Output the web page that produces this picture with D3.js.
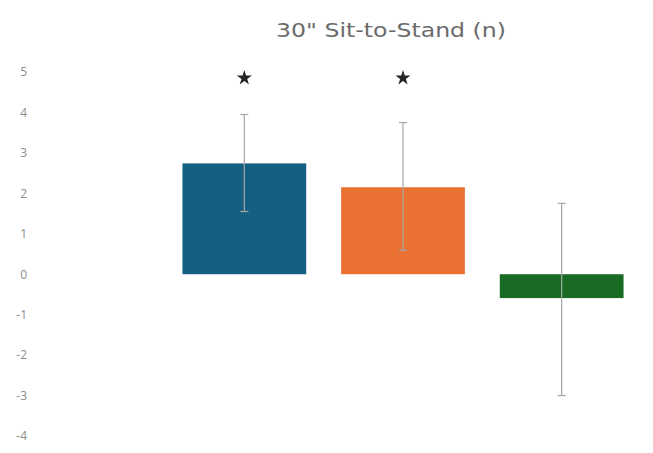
<!DOCTYPE html>
<html>
<head>
<meta charset="utf-8">
<script src="https://cdn.jsdelivr.net/npm/d3@7"></script>
<style>
  body { margin: 0; background: #fff; }
  svg { display: block; }
</style>
</head>
<body>
<svg id="chart" width="653" height="453"></svg>
<script>
// values
const groups = ["A", "B", "C"];
const means = [2.74, 2.15, -0.59];
const errUp = [3.95, 3.75, 1.75];
const errLow = [1.55, 0.59, -3.0];
const starred = [true, true, false];
const colors = ["#156082", "#E97132", "#196B24"];
const yTicks = [5, 4, 3, 2, 1, 0, -1, -2, -3, -4];

const svg = d3.select("#chart");

const x = d3.scaleBand()
    .domain(groups)
    .range([165, 641])
    .paddingInner(0.22)
    .paddingOuter(0.11);

const y = d3.scaleLinear()
    .domain([-4, 5])
    .range([436, 72]);

// title
svg.append("text")
    .attr("x", 391)
    .attr("y", 37)
    .attr("text-anchor", "middle")
    .attr("font-family", "DejaVu Sans, sans-serif")
    .attr("font-size", 20)
    .attr("textLength", 230)
    .attr("lengthAdjust", "spacingAndGlyphs")
    .attr("fill", "#6b6b6b")
    .text("30\" Sit-to-Stand (n)");

// y axis labels only, no line
const yAxis = d3.axisLeft(y)
    .tickValues(yTicks)
    .tickSize(0)
    .tickPadding(0)
    .tickFormat(d => String(d));

svg.append("g")
    .attr("transform", "translate(27,0)")
    .call(yAxis)
    .call(g => g.select(".domain").remove())
    .call(g => g.selectAll("text")
        .attr("font-family", "Open Sans, sans-serif")
        .attr("font-size", 12)
        .attr("fill", "#8c8c8c"));

// bars
svg.selectAll("rect.bar")
    .data(groups)
    .join("rect")
    .attr("class", "bar")
    .attr("x", d => x(d))
    .attr("width", x.bandwidth())
    .attr("y", (d, i) => y(Math.max(0, means[i])))
    .attr("height", (d, i) => Math.abs(y(means[i]) - y(0)))
    .attr("fill", (d, i) => colors[i]);

// error bars
const eb = svg.selectAll("g.err")
    .data(groups)
    .join("g")
    .attr("class", "err")
    .attr("stroke", "#a6a6a6")
    .attr("stroke-width", 1.2);

eb.append("line")
    .attr("x1", d => x(d) + x.bandwidth() / 2)
    .attr("x2", d => x(d) + x.bandwidth() / 2)
    .attr("y1", (d, i) => y(errUp[i]))
    .attr("y2", (d, i) => y(errLow[i]));

eb.append("line")
    .attr("x1", d => x(d) + x.bandwidth() / 2 - 4)
    .attr("x2", d => x(d) + x.bandwidth() / 2 + 4)
    .attr("y1", (d, i) => y(errUp[i]))
    .attr("y2", (d, i) => y(errUp[i]));

eb.append("line")
    .attr("x1", d => x(d) + x.bandwidth() / 2 - 4)
    .attr("x2", d => x(d) + x.bandwidth() / 2 + 4)
    .attr("y1", (d, i) => y(errLow[i]))
    .attr("y2", (d, i) => y(errLow[i]));

// significance stars
svg.selectAll("path.star")
    .data(groups.filter((d, i) => starred[i]))
    .join("path")
    .attr("class", "star")
    .attr("d", d3.symbol(d3.symbolStar, 70))
    .attr("transform", d => `translate(${x(d) + x.bandwidth() / 2},78)`)
    .attr("fill", "#262626");
</script>
</body>
</html>
